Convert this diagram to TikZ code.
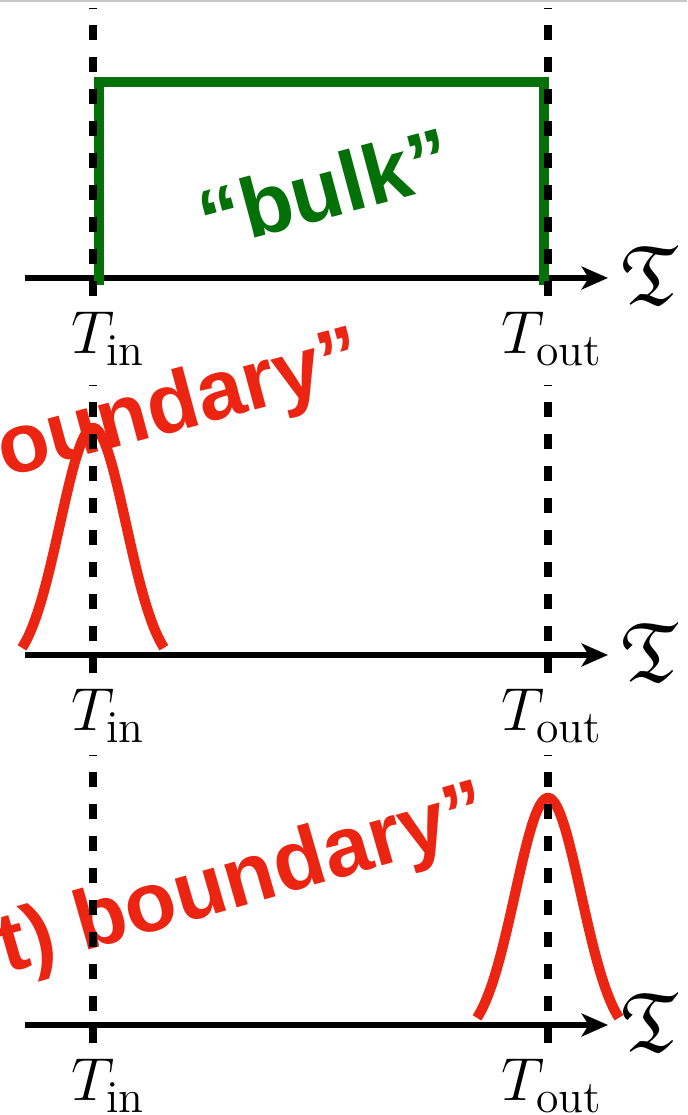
\documentclass[tikz,border=0pt]{standalone}
\usepackage{amsmath,amssymb}
\usepackage{fontspec}
\newfontfamily\wordfont{Liberation Sans}
\usepackage{tikz}
\usetikzlibrary{arrows.meta,positioning,calc}

\definecolor{bulkgreen}{RGB}{4,112,8}
\definecolor{bumpred}{RGB}{236,36,18}
\newcommand{\tlab}[1]{$T_{\raisebox{-0.8pt}{\fontsize{13}{14}\selectfont #1}}$}

\begin{document}
\begin{tikzpicture}[every node/.style={font=\fontsize{17.5}{20}\selectfont},
    axis/.style={line width=1.6pt, -{Stealth[length=7.5pt,width=6.5pt,inset=2pt]}},
    tline/.style={line width=2.3pt, dash pattern=on 4.3pt off 4.8pt},
    bulkline/.style={line width=2.9pt, draw=bulkgreen},
    bump/.style={line width=2.9pt, draw=bumpred},
    tag/.style={inner sep=0pt, anchor=base west},
    word/.style={font=\wordfont\bfseries\fontsize{24}{28}\selectfont, inner sep=0pt}
  ]
    % Rahmen
    \clip (0,0) rectangle (6.87,11.15);
    \draw[gray!45, line width=0.6pt] (0,11.14) -- (6.87,11.14);

    % Achsen und Zeitmarken
    \foreach \i/\y in {1/8.37,2/4.60,3/0.90} {
      \coordinate (a\i) at (0.25,\y);
      \coordinate (b\i) at (6.08,\y);
      \coordinate (in\i) at (0.93,\y);
      \coordinate (out\i) at (5.48,\y);
      \draw[axis] (a\i) -- (b\i);
      \node[inner sep=0pt, anchor=west, font=\fontsize{24}{28}\selectfont] (fr\i) at ($(b\i)+(0.13,0.03)$) {$\mathfrak{T}$};
      \node[tag] (tin\i) at ($(in\i)+(-0.22,-0.76)$) {\tlab{in}};
      \node[tag] (tout\i) at ($(out\i)+(-0.47,-0.76)$) {\tlab{out}};
    }

    % Bulk
    \coordinate (bl) at (0.99,8.30);
    \coordinate (tl) at (0.99,10.33);
    \coordinate (tr) at (5.44,10.33);
    \coordinate (br) at (5.44,8.30);
    \draw[bulkline] (bl) -- (tl) -- (tr) -- (br);
    \node[word, text=bulkgreen, rotate=15] (bulk) at (3.25,9.27) {“bulk”};

    % Randterme
    \draw[bump, shift={(in2)}] plot[domain=-0.71:0.71, samples=70, smooth] (\x, {-0.17+2.44*exp(-((\x)^2)/0.2178)});
    \draw[bump, shift={(out3)}] plot[domain=-0.71:0.71, samples=70, smooth] (\x, {-0.17+2.44*exp(-((\x)^2)/0.2178)});
    \node[word, text=bumpred, rotate=15, anchor=base east] (bd2) at (3.68,7.35) {oundary”};
    \node[word, text=bumpred, rotate=16, anchor=base east] (bd3) at (4.94,2.81) {t) boundary”};

    % gestrichelte Linien
    \foreach \i in {1,2,3} {
      \draw[tline] ($(in\i)+(0,-0.18)$) coordinate (inlo\i) -- ($(in\i)+(0,2.70)$) coordinate (inhi\i);
      \draw[tline] ($(out\i)+(0,-0.18)$) coordinate (outlo\i) -- ($(out\i)+(0,2.70)$) coordinate (outhi\i);
    }
\end{tikzpicture}
\end{document}
